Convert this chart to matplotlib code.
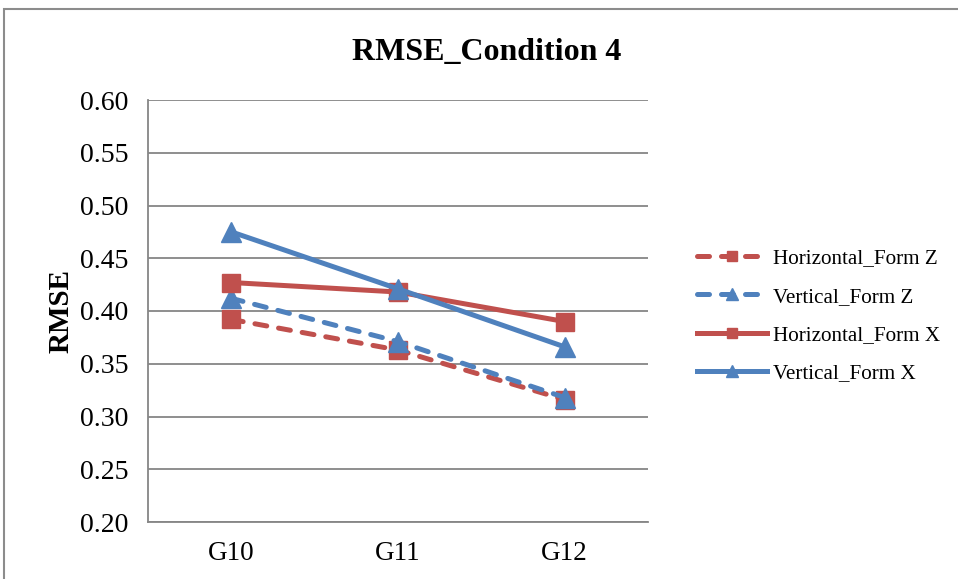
import matplotlib.pyplot as plt
from matplotlib.patches import Rectangle

# Данные
groups = ['G10', 'G11', 'G12']
horizontal_z = [0.392, 0.363, 0.316]
vertical_z = [0.412, 0.371, 0.318]
horizontal_x = [0.427, 0.418, 0.390]
vertical_x = [0.475, 0.421, 0.366]

RED = '#C0504D'
BLUE = '#4F81BD'
GRID = '#868686'
DASH = (0, (2.4, 2.4))

plt.rcParams['font.family'] = ['Liberation Serif', 'DejaVu Serif']

fig = plt.figure(figsize=(9.58, 5.79), dpi=100)
ax = fig.add_axes([148 / 958, 1 - 522 / 579, 500 / 958, 422 / 579])

# Рамка области диаграммы
fig.patches.append(Rectangle((4 / 958, -0.1), 1.2, 1.1 - 9 / 579,
                             transform=fig.transFigure, fill=False,
                             edgecolor='#8C8C8C', linewidth=1.5))

x = range(len(groups))
ax.plot(x, horizontal_z, color=RED, linestyle=DASH, linewidth=3.6,
        marker='s', markersize=13, label='Horizontal_Form Z', dash_capstyle='round')
ax.plot(x, vertical_z, color=BLUE, linestyle=DASH, linewidth=3.6,
        marker='^', markersize=14, label='Vertical_Form Z', dash_capstyle='round')
ax.plot(x, horizontal_x, color=RED, linewidth=3.6,
        marker='s', markersize=13, label='Horizontal_Form X')
ax.plot(x, vertical_x, color=BLUE, linewidth=3.6,
        marker='^', markersize=14, label='Vertical_Form X')

ax.set_xlim(-0.5, 2.5)
ax.set_ylim(0.20, 0.60)
ax.set_yticks([0.20 + 0.05 * i for i in range(9)])
ax.set_yticklabels([f'{0.20 + 0.05 * i:.2f}' for i in range(9)], fontsize=20)
ax.set_xticks(list(x))
ax.set_xticklabels(groups, fontsize=19.5)
ax.tick_params(axis='y', length=0, pad=14)
ax.tick_params(axis='x', length=0, pad=14)

ax.grid(axis='y', color=GRID, linewidth=1.3)
ax.set_axisbelow(True)
for side in ('top', 'right'):
    ax.spines[side].set_visible(False)
for side in ('left', 'bottom'):
    ax.spines[side].set_color(GRID)
    ax.spines[side].set_linewidth(1.3)

ax.set_ylabel('RMSE', fontsize=21, fontweight='bold', labelpad=4)
fig.text(487 / 958, 1 - 53 / 579, 'RMSE_Condition 4', fontsize=23,
         fontweight='bold', ha='center', va='center')

# Легенда справа
ax.legend(loc='center left', bbox_to_anchor=(1.06, 0.488), frameon=False,
          fontsize=15.2, handlelength=3.3, labelspacing=0.88, handletextpad=0.28,
          markerscale=0.6)

fig.savefig('out.png', dpi=100)
